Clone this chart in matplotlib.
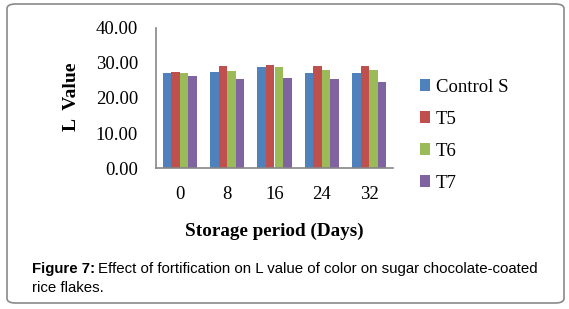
import matplotlib
matplotlib.use("Agg")
import matplotlib.pyplot as plt
from matplotlib.patches import FancyBboxPatch
import numpy as np

# data
days = ["0", "8", "16", "24", "32"]
control_s = [27.1, 27.4, 28.8, 27.1, 27.1]
t5 = [27.5, 29.1, 29.4, 29.0, 29.0]
t6 = [27.1, 27.6, 28.8, 27.9, 27.9]
t7 = [26.1, 25.4, 25.6, 25.4, 24.5]
series_names = ["Control S", "T5", "T6", "T7"]
colors = ["#4F81BD", "#C0504D", "#9BBB59", "#8064A2"]

W, H = 569, 309
fig = plt.figure(figsize=(W / 100, H / 100), dpi=100)

# rounded grey frame around the figure
frame = FancyBboxPatch((7 / W, 6 / H), 557 / W, 299 / H,
                       boxstyle="round,pad=0,rounding_size=0.015",
                       transform=fig.transFigure, facecolor="none",
                       edgecolor="#8a8a8a", linewidth=1.2)
fig.patches.append(frame)

ax = fig.add_axes([156 / W, 1 - 168.3 / H, 237 / W, (168.3 - 27.5) / H])

x = np.arange(len(days))
bw = 0.18
for i, (vals, name, c) in enumerate(zip([control_s, t5, t6, t7], series_names, colors)):
    ax.bar(x + (i - 1.5) * bw, vals, bw, color=c, label=name)

ax.set_xlim(-0.5, len(days) - 0.5)
ax.set_ylim(0, 40)
ax.set_yticks([0, 10, 20, 30, 40])
ax.set_yticklabels(["%.2f" % v for v in [0, 10, 20, 30, 40]])
ax.set_xticks(x)
ax.set_xticklabels(days)

serif = "Liberation Serif"
fs = 13.5
for lab in ax.get_yticklabels() + ax.get_xticklabels():
    lab.set_fontfamily(serif)
    lab.set_fontsize(fs)
ax.tick_params(axis="y", length=0, pad=13)
ax.tick_params(axis="x", length=0, pad=13)

for s in ["top", "right"]:
    ax.spines[s].set_visible(False)
for s in ["left", "bottom"]:
    ax.spines[s].set_color("#868686")
    ax.spines[s].set_linewidth(1.2)

# axis titles
fig.text(274 / W, 1 - 231 / H, "Storage period (Days)", ha="center", va="center",
         family=serif, fontweight="bold", fontsize=13.8)
fig.text(72 / W, 1 - 97 / H, "L  Value", ha="center", va="center", rotation=90,
         family=serif, fontweight="bold", fontsize=14)

# legend
fig.legend(loc="center left", bbox_to_anchor=(420 / W, 1 - 135 / H), frameon=False,
           prop={"family": serif, "size": fs}, handlelength=0.55, handleheight=0.55,
           handletextpad=0.3, labelspacing=0.8, borderpad=0, borderaxespad=0)

# caption
cap_y1 = 1 - 269 / H
cap_y2 = 1 - 288 / H
cfs = 10.8
bold = fig.text(32 / W, cap_y1, "Figure 7:", family="Liberation Sans", fontweight="bold",
                fontsize=cfs, va="center")
r = fig.canvas.get_renderer()
bb = bold.get_window_extent(renderer=r)
fig.text(bb.x1 / W + 3 / W, cap_y1,
         "Effect of fortification on L value of color on sugar chocolate-coated",
         family="Liberation Sans", fontsize=cfs, va="center")
fig.text(32 / W, cap_y2, "rice flakes.", family="Liberation Sans", fontsize=cfs, va="center")

fig.savefig("out.png", dpi=100)
